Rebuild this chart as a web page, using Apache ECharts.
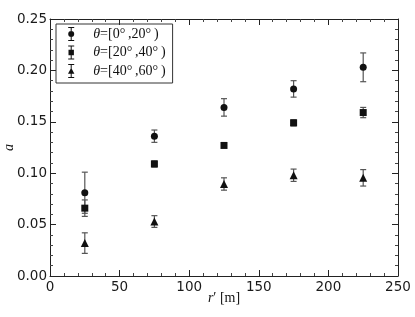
<!DOCTYPE html>
<html>
<head>
<meta charset="utf-8">
<script src="https://cdn.jsdelivr.net/npm/echarts@6/dist/echarts.min.js"></script>
<style>html,body{margin:0;padding:0;background:#fff;}#c{width:415px;height:317px;}</style>
</head>
<body>
<div id="c"></div>
<script>
const rValues = [25, 75, 125, 175, 225];
const names = ['θ=[0°\u2009,20°\u2009)', 'θ=[20°\u2009,40°\u2009)', 'θ=[40°\u2009,60°\u2009)'];
const a1 = [0.081, 0.136, 0.164, 0.182, 0.203];
const e1 = [0.020, 0.006, 0.0085, 0.008, 0.014];
const a2 = [0.066, 0.109, 0.127, 0.149, 0.159];
const e2 = [0.008, 0.003, 0.002, 0.003, 0.005];
const a3 = [0.032, 0.053, 0.0895, 0.098, 0.0955];
const e3 = [0.010, 0.0057, 0.006, 0.006, 0.008];
const xTicks = [0, 50, 100, 150, 200, 250];
const yTicks = [0.00, 0.05, 0.10, 0.15, 0.20, 0.25];

const symbols = ['circle', 'rect', 'triangle'];
const icons = [
  'path://M1,0L7,0L7,1L1,1Z M3.5,0L4.5,0L4.5,14L3.5,14Z M1,13L7,13L7,14L1,14Z M7,7A3,3 0 1 1 1,7A3,3 0 1 1 7,7Z',
  'path://M1,0L7,0L7,1L1,1Z M3.5,0L4.5,0L4.5,14L3.5,14Z M1,13L7,13L7,14L1,14Z M1.3,4.3L6.7,4.3L6.7,9.7L1.3,9.7Z',
  'path://M1,0L7,0L7,1L1,1Z M3.5,0L4.5,0L4.5,14L3.5,14Z M1,13L7,13L7,14L1,14Z M4,3.8L7.2,9.8L0.8,9.8Z'
];
const vals = [a1, a2, a3];
const errs = [e1, e2, e3];

const series = [];
vals.forEach((v, k) => {
  series.push({
    type: 'custom',
    silent: true,
    z: 1,
    renderItem: function (params, api) {
      const x = api.value(0);
      const lo = api.coord([x, api.value(1)]);
      const hi = api.coord([x, api.value(2)]);
      const st = { stroke: '#555', lineWidth: 1.2 };
      return {
        type: 'group',
        children: [
          { type: 'line', shape: { x1: lo[0], y1: lo[1], x2: hi[0], y2: hi[1] }, style: st },
          { type: 'line', shape: { x1: lo[0] - 3, y1: lo[1], x2: lo[0] + 3, y2: lo[1] }, style: st },
          { type: 'line', shape: { x1: hi[0] - 3, y1: hi[1], x2: hi[0] + 3, y2: hi[1] }, style: st }
        ]
      };
    },
    data: rValues.map((r, i) => [r, v[i] - errs[k][i], v[i] + errs[k][i]])
  });
  series.push({
    name: names[k],
    type: 'scatter',
    z: 2,
    symbol: symbols[k],
    symbolSize: k === 2 ? 8 : 7,
    itemStyle: { color: '#111', opacity: 1 },
    data: rValues.map((r, i) => [r, v[i]])
  });
});

const tickColor = '#222';
const axisCommon = {
  axisLine: { show: true, onZero: false, lineStyle: { color: tickColor, width: 1 } },
  axisTick: { show: true, inside: true, length: 6, lineStyle: { color: tickColor } },
  minorTick: { show: true, splitNumber: 5, length: 3, lineStyle: { color: '#444' } },
  splitLine: { show: false }
};
const serif = 'Liberation Serif';

const chart = echarts.init(document.getElementById('c'));
chart.setOption({
  animation: false,
  backgroundColor: '#fff',
  grid: { left: 50, right: 17, top: 19, bottom: 41, containLabel: false, outerBoundsMode: 'none' },
  legend: {
    orient: 'vertical',
    left: 56,
    top: 24,
    padding: [3, 7, 5, 12],
    borderColor: '#333',
    borderWidth: 1,
    itemWidth: 8,
    itemHeight: 14,
    itemGap: 4.5,
    data: names.map((n, k) => ({ name: n, icon: icons[k] })),
    formatter: function (name) {
      return '{i|θ}{t|' + name.slice(1) + '}';
    },
    textStyle: {
      fontFamily: serif,
      fontSize: 14,
      color: '#111',
      padding: [0, 0, 0, 13],
      rich: {
        i: { fontFamily: serif, fontStyle: 'italic', fontSize: 14, color: '#111' },
        t: { fontFamily: serif, fontSize: 14, color: '#111' }
      }
    }
  },
  xAxis: [
    Object.assign({}, axisCommon, {
      type: 'value', min: 0, max: 250, interval: 50, position: 'bottom',
      name: '{i|r}′ [m]',
      nameLocation: 'middle', nameGap: 15, nameMoveOverlap: false,
      nameTextStyle: { fontFamily: serif, fontSize: 14, color: '#111', rich: { i: { fontFamily: serif, fontStyle: 'italic', fontSize: 14, color: '#111' } } },
      axisLabel: { fontFamily: 'DejaVu Sans', fontSize: 13.5, color: '#1a1a1a', margin: 4, formatter: v => xTicks.includes(v) ? String(v) : '' }
    }),
    Object.assign({}, axisCommon, {
      type: 'value', min: 0, max: 250, interval: 50, position: 'top',
      axisLabel: { show: false }
    })
  ],
  yAxis: [
    Object.assign({}, axisCommon, {
      type: 'value', min: 0, max: 0.25, interval: 0.05, position: 'left',
      name: 'a',
      nameLocation: 'middle', nameGap: 34, nameRotate: 90, nameMoveOverlap: false,
      nameTextStyle: { fontFamily: serif, fontStyle: 'italic', fontSize: 14, color: '#111' },
      axisLabel: { fontFamily: 'DejaVu Sans', fontSize: 13.5, color: '#1a1a1a', margin: 3, formatter: v => v.toFixed(2) }
    }),
    Object.assign({}, axisCommon, {
      type: 'value', min: 0, max: 0.25, interval: 0.05, position: 'right',
      axisLabel: { show: false }
    })
  ],
  series: series
});
</script>
</body>
</html>
